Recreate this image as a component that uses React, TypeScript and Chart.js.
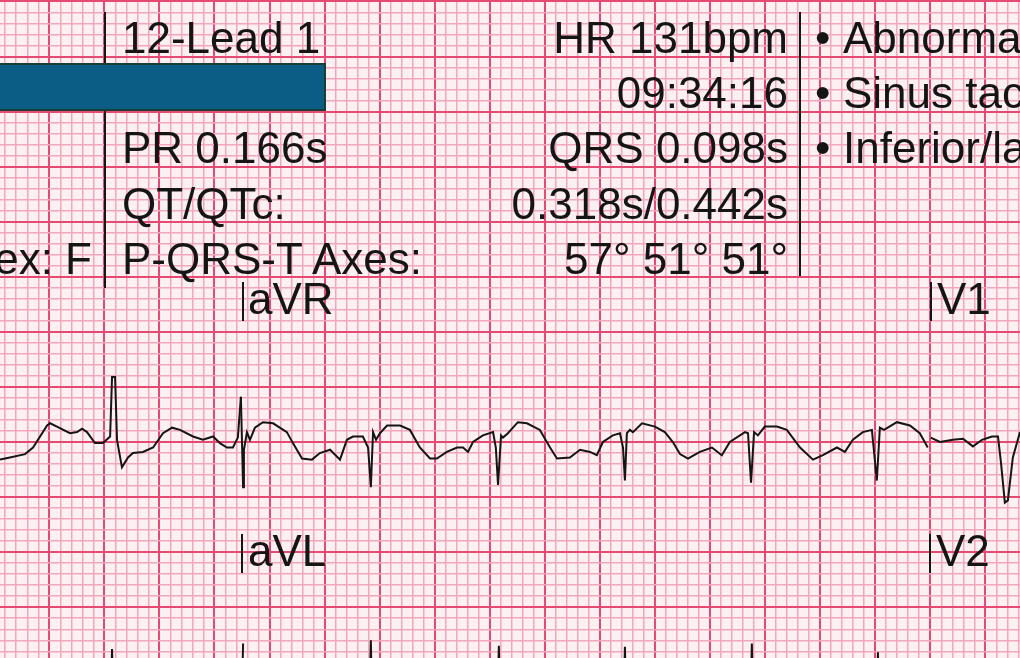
import React, { useEffect, useRef } from "react";
import Chart from "chart.js/auto";

// ECG paper: 25 mm/s (40 ms per small box), 10 mm/mV
// points are [time ms, amplitude mV]
const leadI: [number, number][] = [
  [21, -0.16], [57, -0.14], [112, -0.11], [141, -0.05], [192, 0.15], [203, 0.17],
  [228, 0.14], [275, 0.08], [301, 0.09], [319, 0.12], [337, 0.09], [366, -0.01],
  [395, -0.01], [421, 0.05], [428, 0.59], [439, 0.59], [446, 0.02], [464, -0.23],
  [486, -0.14], [504, -0.1], [540, -0.09], [577, -0.05], [613, 0.08], [646, 0.13],
  [675, 0.11], [722, 0.05], [758, 0.02], [795, 0.05], [820, -0.01], [845, -0.05],
  [867, -0.05], [885, 0.04], [896, 0.41],
];

const leadAVR: [number, number][] = [
  [896, 0.41], [904, -0.41], [907, -0.07], [918, 0.09], [929, 0.02], [947, 0.13],
  [976, 0.18], [1013, 0.17], [1063, 0.09], [1085, -0.01], [1118, -0.15], [1154, -0.16],
  [1183, -0.1], [1220, -0.07], [1256, -0.16], [1281, 0.02], [1303, 0.05], [1339, 0.05],
  [1358, -0.05], [1368, -0.41], [1376, 0.09], [1387, 0.02], [1401, 0.08], [1427, 0.15],
  [1474, 0.15], [1510, 0.11], [1546, -0.05], [1583, -0.15], [1608, -0.15], [1644, -0.09],
  [1681, -0.05], [1703, -0.05], [1721, -0.09], [1739, 0.0], [1775, 0.06], [1812, 0.09],
  [1822, -0.05], [1830, -0.39], [1841, 0.06], [1848, 0.04], [1866, 0.08], [1902, 0.18],
  [1935, 0.17], [1982, 0.11], [2019, -0.05], [2044, -0.15], [2091, -0.14], [2128, -0.07],
  [2164, -0.09], [2189, -0.12], [2211, 0.0], [2247, 0.06], [2273, 0.08], [2284, -0.05],
  [2291, -0.35], [2298, 0.08], [2309, 0.11], [2320, 0.09], [2353, 0.17], [2400, 0.14],
  [2436, 0.09], [2465, 0.0], [2491, -0.11], [2520, -0.15], [2563, -0.09], [2607, -0.05],
  [2643, -0.12], [2672, 0.0], [2727, 0.09], [2738, 0.08], [2749, -0.37], [2760, 0.09],
  [2774, 0.06], [2799, 0.14], [2843, 0.14], [2879, 0.11], [2927, -0.05], [2974, -0.16],
  [3010, -0.12], [3061, -0.05], [3090, -0.09], [3119, 0.02], [3155, 0.09], [3188, 0.11],
  [3206, -0.35], [3217, 0.13], [3232, 0.11], [3279, 0.18], [3326, 0.15], [3362, 0.08],
  [3391, -0.05],
];

const leadV1: [number, number][] = [
  [3402, 0.04], [3435, 0.0], [3482, 0.02], [3519, 0.03], [3555, -0.04], [3588, 0.02],
  [3624, 0.05], [3646, 0.05], [3657, -0.19], [3671, -0.55], [3682, -0.53], [3700, -0.14],
  [3726, 0.09],
];

// second row: only the R peaks reach into view
const leadII: [number, number][] = [
  [21, 0], [422, 0], [428, 0.62], [434, -0.1], [898, 0], [904, 0.67],
];

const leadAVL: [number, number][] = [
  [908, -0.1], [1362, 0], [1368, 0.7], [1374, -0.1], [1827, 0], [1833, 0.65],
  [1839, -0.1], [2285, 0], [2291, 0.64], [2297, -0.1], [2746, 0], [2752, 0.67],
  [2758, -0.1], [3204, 0], [3210, 0.59], [3216, -0.1], [3391, 0],
];

const ROW2_OFFSET = -2.5; // mV

const headerLeft = ["12-Lead 1", "", "PR 0.166s", "QT/QTc:", "P-QRS-T Axes:"];
const headerRight = ["HR 131bpm", "09:34:16", "QRS 0.098s", "0.318s/0.442s", "57° 51° 51°"];
const findings = ["Abnormal ECG", "Sinus tachycardia", "Inferior/lateral"];

const rowBaselines = [53, 108, 163, 219, 274];

const MINOR = "#f3a7bb";
const MAJOR = "#e44a72";
const INK = "#151515";
const FONT = "'Liberation Sans', Arial, sans-serif";

const toPoints = (arr: [number, number][], offset = 0) =>
  arr.map(([t, v]) => ({ x: t, y: v + offset }));

const isMajorX = (v?: number) => v !== undefined && Math.round(v) % 200 === 0;
const isMajorY = (v?: number) => v !== undefined && Math.round(v * 10) % 5 === 0;

const EcgStrip: React.FC = () => {
  const chartRef = useRef<HTMLCanvasElement>(null);
  const chartInstance = useRef<Chart | null>(null);

  useEffect(() => {
    const ctx = chartRef.current?.getContext("2d");
    if (!ctx) return;
    if (chartInstance.current) chartInstance.current.destroy();

    const line = (data: [number, number][], offset = 0) => ({
      data: toPoints(data, offset),
      borderColor: INK,
      borderWidth: 2,
      pointRadius: 0,
      tension: 0,
      fill: false,
    });

    chartInstance.current = new Chart(ctx, {
      type: "line",
      data: {
        datasets: [
          line(leadI),
          line(leadAVR),
          line(leadV1),
          line(leadII, ROW2_OFFSET),
          line(leadAVL, ROW2_OFFSET),
        ],
      },
      options: {
        responsive: false,
        animation: false,
        layout: { padding: 0 },
        plugins: { legend: { display: false }, tooltip: { enabled: false } },
        scales: {
          x: {
            type: "linear",
            min: 21,
            max: 3726,
            afterBuildTicks: (scale: any) => {
              const ticks = [];
              for (let v = 40; v <= 3720; v += 40) ticks.push({ value: v });
              scale.ticks = ticks;
            },
            ticks: { display: false },
            border: { display: false },
            grid: {
              drawTicks: false,
              color: (c: any) => (isMajorX(c.tick?.value) ? MAJOR : MINOR),
              lineWidth: (c: any) => (isMajorX(c.tick?.value) ? 2 : 1.5),
            },
          },
          y: {
            type: "linear",
            min: -1.961,
            max: 4.013,
            afterBuildTicks: (scale: any) => {
              const ticks = [];
              for (let k = -19; k <= 40; k++) ticks.push({ value: k / 10 });
              scale.ticks = ticks;
            },
            ticks: { display: false },
            border: { display: false },
            grid: {
              drawTicks: false,
              color: (c: any) => (isMajorY(c.tick?.value) ? MAJOR : MINOR),
              lineWidth: (c: any) => (isMajorY(c.tick?.value) ? 2 : 1.5),
            },
          },
        },
      },
    });

    return () => {
      if (chartInstance.current) {
        chartInstance.current.destroy();
        chartInstance.current = null;
      }
    };
  }, []);

  return (
    <canvas
      ref={chartRef}
      width={1020}
      height={658}
      style={{ display: "block", background: "#fdf0f3" }}
    />
  );
};

// baseline of 44px Liberation Sans sits ~37px below the top of a 44px line box
const Txt: React.FC<{
  base: number;
  left?: number;
  right?: number;
  children: React.ReactNode;
}> = ({ base, left, right, children }) => (
  <div
    style={{
      position: "absolute",
      top: base - 37.25,
      left,
      right,
      fontSize: 44,
      lineHeight: "44px",
      whiteSpace: "nowrap",
      color: INK,
    }}
  >
    {children}
  </div>
);

const VLine: React.FC<{ x: number; y1: number; y2: number }> = ({ x, y1, y2 }) => (
  <div
    style={{
      position: "absolute",
      left: x - 1,
      top: y1,
      width: 2,
      height: y2 - y1,
      background: INK,
    }}
  />
);

const App: React.FC = () => {
  return (
    <div
      style={{
        position: "fixed",
        left: 0,
        top: 0,
        width: 1020,
        height: 658,
        overflow: "hidden",
        fontFamily: FONT,
      }}
    >
      <EcgStrip />

      {/* header block */}
      <VLine x={105} y1={12} y2={288} />
      <VLine x={800} y1={12} y2={276} />
      <div
        style={{
          position: "absolute",
          left: -4,
          top: 63,
          width: 330,
          height: 48,
          boxSizing: "border-box",
          background: "#0b5d85",
          border: "2px solid #173f36",
        }}
      />
      {headerLeft.map((t, i) =>
        t ? (
          <Txt key={t} base={rowBaselines[i]} left={122}>
            {t}
          </Txt>
        ) : null
      )}
      <Txt base={rowBaselines[4]} right={1020 - 92}>
        Sex: F
      </Txt>
      {headerRight.map((t, i) => (
        <Txt key={t} base={rowBaselines[i]} right={1020 - 788}>
          {t}
        </Txt>
      ))}
      {findings.map((t, i) => (
        <React.Fragment key={t}>
          <Txt base={rowBaselines[i]} left={815}>
            •
          </Txt>
          <Txt base={rowBaselines[i]} left={843}>
            {t}
          </Txt>
        </React.Fragment>
      ))}

      {/* lead labels */}
      <VLine x={243} y1={282} y2={321} />
      <Txt base={314} left={248}>aVR</Txt>
      <VLine x={931} y1={282} y2={321} />
      <Txt base={314} left={937}>V1</Txt>
      <VLine x={242} y1={534} y2={573} />
      <Txt base={566} left={248}>aVL</Txt>
      <VLine x={930} y1={534} y2={573} />
      <Txt base={566} left={936}>V2</Txt>
    </div>
  );
};

export default App;
